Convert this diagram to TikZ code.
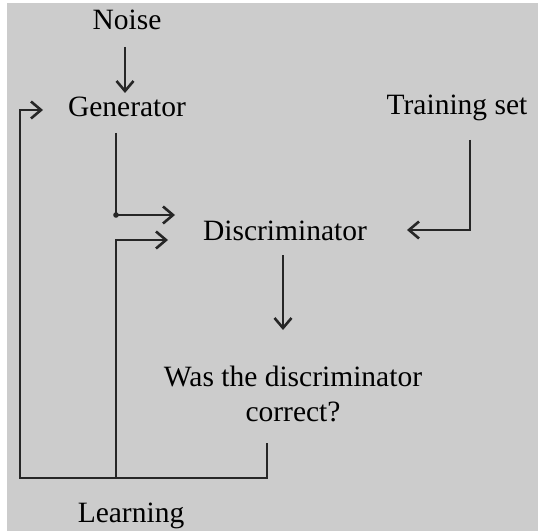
\documentclass[tikz,border=0pt]{standalone}
\usepackage{fontspec}
\setmainfont{Liberation Serif}
\usepackage{tikz}
\usetikzlibrary{arrows.meta}

\begin{document}
\begin{tikzpicture}[x=1bp,y=-1bp,
  lbl/.style={inner sep=0pt,anchor=base,font=\fontsize{29.5bp}{35bp}\selectfont},
  flow/.style={line width=2.6bp,draw=black!85},
  arr/.style={flow,-{Straight Barb[length=10bp,width=17bp,line width=2.6bp]}}]
  \useasboundingbox (0,0) rectangle (538,531);
  \fill[white] (0,0) rectangle (538,531);
  \fill[black!20] (7,3) rectangle (538,531);

  \node[lbl] (noise) at (127,30) {Noise};
  \node[lbl] (gen) at (127,117) {Generator};
  \node[lbl] (train) at (457,115) {Training set};
  \node[lbl] (disc) at (285,240) {Discriminator};
  \node[lbl,anchor=north,align=center] (check) at (293,366) {Was the discriminator\\correct?};
  \node[lbl] (learn) at (131,522) {Learning};

  \coordinate (n0) at (125,47);
  \coordinate (n1) at (125,93);
  \coordinate (g0) at (116,133);
  \coordinate (g1) at (116,215);
  \coordinate (g2) at (175,215);
  \coordinate (l0) at (20,478);
  \coordinate (l1) at (116,478);
  \coordinate (l2) at (116,240);
  \coordinate (l3) at (168,240);
  \coordinate (l4) at (20,110);
  \coordinate (l5) at (43,110);
  \coordinate (c0) at (267,443);
  \coordinate (c1) at (267,478);
  \coordinate (t0) at (470,140);
  \coordinate (t1) at (470,230);
  \coordinate (t2) at (407,230);
  \coordinate (d0) at (283,255);
  \coordinate (d1) at (283,330);

  \draw[arr] (n0) -- (n1);
  \draw[arr] (g0) -- (g1) -- (g2);
  \fill[black!85] (g1) circle (2.8bp);
  \draw[arr] (c0) -- (c1) -- (l0) -- (l4) -- (l5);
  \draw[arr] (l1) -- (l2) -- (l3);
  \draw[arr] (t0) -- (t1) -- (t2);
  \draw[arr] (d0) -- (d1);
\end{tikzpicture}
\end{document}
